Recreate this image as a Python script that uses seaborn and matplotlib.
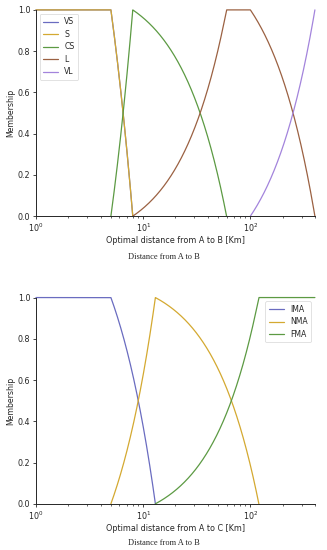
import numpy as np
import pandas as pd
import seaborn as sns
import matplotlib.pyplot as plt

# membership breakpoints (distance in km, membership)
vs_x = [1, 5, 8]
vs_y = [1, 1, 0]
s_x = [1, 5, 8]
s_y = [1, 1, 0]
cs_x = [5, 8, 60]
cs_y = [0, 1, 0]
l_x = [8, 60, 100, 400]
l_y = [0, 1, 1, 0]
vl_x = [100, 400]
vl_y = [0, 1]

ima_x = [1, 5, 13]
ima_y = [1, 1, 0]
nma_x = [5, 13, 120]
nma_y = [0, 1, 0]
fma_x = [13, 120, 400]
fma_y = [0, 1, 1]

colors = {"VS": "#6a6cc0", "S": "#d4a931", "CS": "#5c9a43", "L": "#9b6142", "VL": "#a384dc",
          "IMA": "#6a6cc0", "NMA": "#d4a931", "FMA": "#5c9a43"}


def dense(xs, ys, name):
    # linear in x, sampled finely so it curves on the log axis
    px = np.linspace(xs[0], xs[-1], 2000)
    py = np.interp(px, xs, ys)
    return pd.DataFrame({"x": px, "y": py, "set": name})


sns.set_style("ticks")
plt.rcParams['font.family'] = ['DejaVu Sans']

fig = plt.figure(figsize=(3.27, 5.5), dpi=100)
ax1 = fig.add_axes([0.11, 0.607, 0.853, 0.375])
ax2 = fig.add_axes([0.11, 0.084, 0.853, 0.375])

top = pd.concat([dense(vs_x, vs_y, "VS"), dense(s_x, s_y, "S"), dense(cs_x, cs_y, "CS"),
                 dense(l_x, l_y, "L"), dense(vl_x, vl_y, "VL")])
bot = pd.concat([dense(ima_x, ima_y, "IMA"), dense(nma_x, nma_y, "NMA"), dense(fma_x, fma_y, "FMA")])

sns.lineplot(data=top, x="x", y="y", hue="set", palette=colors, ax=ax1, linewidth=0.9, sort=False)
sns.lineplot(data=bot, x="x", y="y", hue="set", palette=colors, ax=ax2, linewidth=0.9, sort=False)

for ax, lab, loc in [(ax1, "Optimal distance from A to B [Km]", "upper left"),
                     (ax2, "Optimal distance from A to C [Km]", "upper right")]:
    ax.set_xscale("log")
    ax.set_xlim(1, 400)
    ax.set_ylim(0, 1)
    for ln in ax.get_lines():
        ln.set_clip_on(False)
    ax.set_xlabel(lab, fontsize=5.8, labelpad=1.5)
    ax.set_ylabel("Membership", fontsize=5.6, labelpad=2)
    ax.tick_params(labelsize=5.8, length=2.5, width=0.6, pad=1.5)
    ax.tick_params(which="minor", length=1.5, width=0.5)
    for sp in ax.spines.values():
        sp.set_linewidth(0.7)
    leg = ax.legend(loc=loc, fontsize=5.6, frameon=True, handlelength=1.9,
                    borderpad=0.45, labelspacing=0.45, handletextpad=0.8)
    leg.get_frame().set_linewidth(0.5)
    leg.set_title(None)
sns.despine(fig)

fig.text(0.5, 0.532, "Distance from A to B", ha="center", va="center", fontsize=6,
         family="Liberation Serif")
fig.text(0.5, 0.013, "Distance from A to B", ha="center", va="center", fontsize=6,
         family="Liberation Serif")

fig.savefig("out.png", dpi=100)
